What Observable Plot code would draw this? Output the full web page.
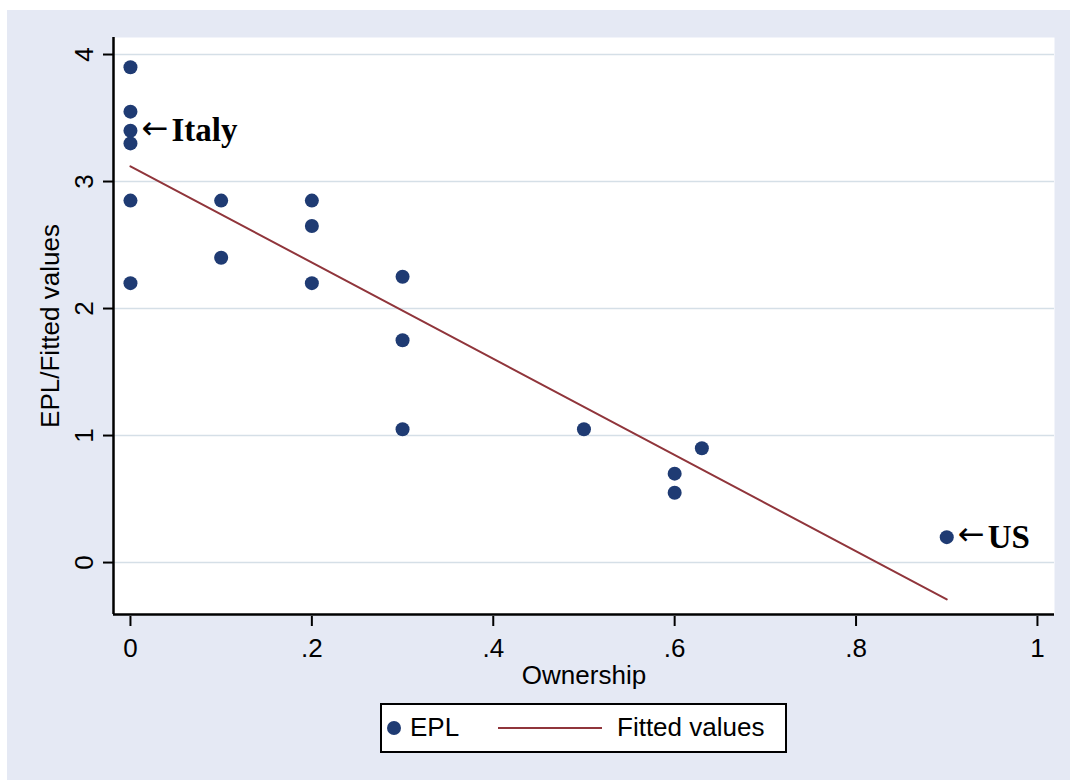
<!DOCTYPE html>
<html>
<head>
<meta charset="utf-8">
<script src="https://cdn.jsdelivr.net/npm/d3@7"></script>
<script src="https://cdn.jsdelivr.net/npm/@observablehq/plot@0.6"></script>
<style>
  body { margin: 0; background: #fff; }
  #fig { position: relative; width: 1070px; height: 780px; background: #fff; overflow: hidden;
         font-family: "Liberation Sans", Arial, sans-serif; }
  #bg { position: absolute; left: 7px; top: 10px; right: 0; bottom: 0; background: #e5e9f4; }
  #chart { position: absolute; left: 0; top: 0; }
  #legend { position: absolute; left: 380px; top: 703px; width: 403px; height: 46px;
            border: 2px solid #000; background: #fff; font-size: 26px; color: #000; }
  #legend .dot { position: absolute; left: 5px; top: 16px; width: 14px; height: 14px;
                 border-radius: 50%; background: #1f3b73; }
  #legend .lbl1 { position: absolute; left: 28px; top: 7px; }
  #legend .ln { position: absolute; left: 116px; top: 22px; width: 104px; height: 2px; background: #90353b; }
  #legend .lbl2 { position: absolute; left: 235px; top: 7px; }
</style>
</head>
<body>
<div id="fig">
  <div id="bg"></div>
  <div id="chart"></div>
  <div id="legend">
    <div class="dot"></div><span class="lbl1">EPL</span>
    <div class="ln"></div><span class="lbl2">Fitted values</span>
  </div>
</div>
<script>
// Data
const ownership = [0, 0, 0, 0, 0, 0, 0.1, 0.1, 0.2, 0.2, 0.2, 0.3, 0.3, 0.3, 0.5, 0.6, 0.6, 0.63, 0.9];
const epl       = [3.9, 3.55, 3.4, 3.3, 2.85, 2.2, 2.85, 2.4, 2.85, 2.65, 2.2, 2.25, 1.75, 1.05, 1.05, 0.7, 0.55, 0.9, 0.2];

const fitOwnership = [0, 0.9];
const fitValues    = [3.12, -0.29];

const noteOwnership = [0, 0.9];
const noteEpl       = [3.4, 0.2];
const noteText      = ["Italy", "US"];
const noteArrow     = "←";

const xTicks = [0, 0.2, 0.4, 0.6, 0.8, 1];
const xTickLabels = ["0", ".2", ".4", ".6", ".8", "1"];
const yTicks = [0, 1, 2, 3, 4];
const yTickLabels = ["0", "1", "2", "3", "4"];

const xDomain = [-0.0187, 1.0188];
const yDomain = [-0.409, 4.134];

const points = ownership.map((x, i) => ({x, y: epl[i]}));
const fit = fitOwnership.map((x, i) => ({x, y: fitValues[i]}));
const notes = noteOwnership.map((x, i) => ({x, y: noteEpl[i], text: noteText[i]}));

const chart = Plot.plot({
  width: 1070,
  height: 700,
  marginLeft: 113,
  marginRight: 16,
  marginTop: 37,
  marginBottom: 86,
  style: {background: "transparent", fontFamily: "'Liberation Sans', Arial, sans-serif", fontSize: "26px", color: "#000"},
  x: {domain: xDomain},
  y: {domain: yDomain},
  marks: [
    Plot.frame({fill: "#fff", stroke: null}),
    Plot.gridY(yTicks, {stroke: "#d5dfe7", strokeOpacity: 1, strokeWidth: 1.5}),
    Plot.ruleX([xDomain[0]], {stroke: "#000", strokeWidth: 2.5}),
    Plot.ruleY([yDomain[0]], {stroke: "#000", strokeWidth: 2.5}),
    Plot.axisY(yTicks, {
      tickSize: 10, tickPadding: 11, tickRotate: -90, strokeWidth: 2,
      tickFormat: (d, i) => yTickLabels[i], fontSize: 26,
      label: "EPL/Fitted values", labelAnchor: "center", labelOffset: 73, labelArrow: "none"
    }),
    Plot.axisX(xTicks, {
      tickSize: 10, tickPadding: 12, dy: 2, strokeWidth: 2,
      tickFormat: (d, i) => xTickLabels[i], fontSize: 26,
      label: "Ownership", labelAnchor: "center", labelOffset: 69, labelArrow: "none"
    }),
    Plot.line(fit, {x: "x", y: "y", stroke: "#90353b", strokeWidth: 2}),
    Plot.dot(points, {x: "x", y: "y", r: 7, fill: "#1f3b73", stroke: null}),
    Plot.text(notes, {x: "x", y: "y", text: () => noteArrow, textAnchor: "start", dx: 11, dy: -2,
      fontFamily: "'DejaVu Sans', sans-serif", fontSize: 32, fill: "#000"}),
    Plot.text(notes, {x: "x", y: "y", text: "text", textAnchor: "start", dx: 41,
      fontFamily: "'Liberation Serif', 'Times New Roman', serif", fontWeight: "bold", fontSize: 33, fill: "#000"})
  ]
});
document.getElementById("chart").appendChild(chart);
</script>
</body>
</html>
